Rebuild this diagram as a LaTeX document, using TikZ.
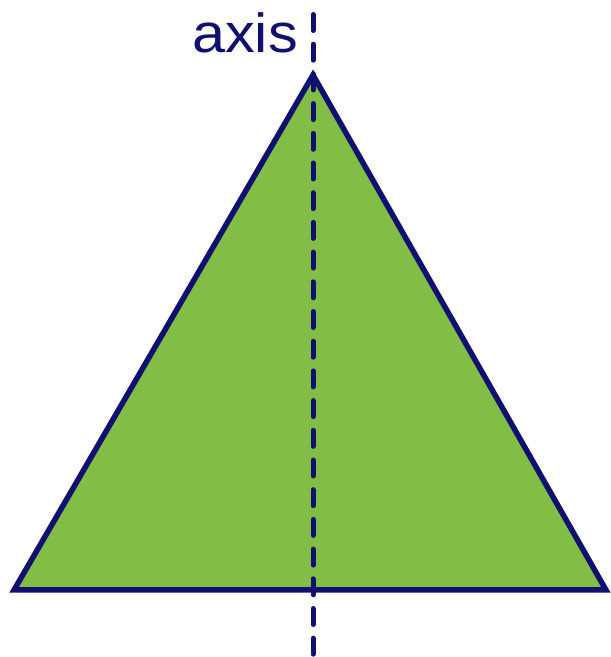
\documentclass[tikz,border=0pt]{standalone}
\usepackage{fontspec}
\setmainfont{Liberation Sans}
\definecolor{navy}{RGB}{16,16,112}
\definecolor{leaf}{RGB}{130,190,70}
\tikzset{
  tri/.style={fill=leaf,draw=navy,line width=5.5pt,line join=miter},
  axisline/.style={draw=navy,line width=5pt,line cap=round,dash pattern=on 16pt off 13.7pt},
  lbl/.style={text=navy,font=\fontsize{55}{55}\selectfont,inner sep=0pt,xscale=1.08}
}
\begin{document}
\begin{tikzpicture}[x=1pt,y=1pt]
\useasboundingbox (0,0) rectangle (611,657);
\clip (0,0) rectangle (611,657);
\coordinate (A) at (313,582);
\coordinate (L) at (14,67);
\coordinate (R) at (606,67);
\draw[tri] (A) -- (L) -- (R) -- cycle;
\coordinate (T) at (313,642.5);
\coordinate (B) at (313,-10);
\draw[axisline] (T) -- (B);
\node[lbl,anchor=base east] (ax) at (298,604) {axis};
\end{tikzpicture}
\end{document}
